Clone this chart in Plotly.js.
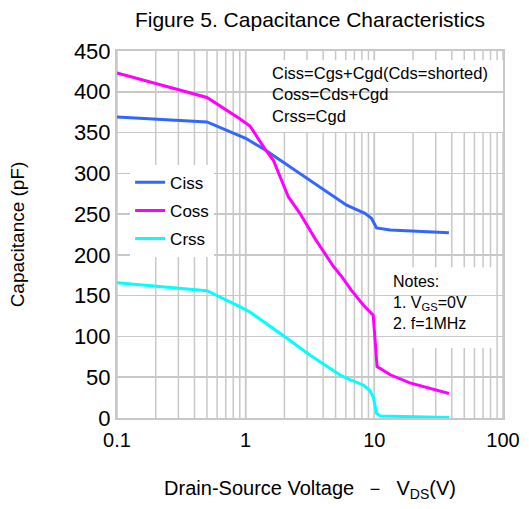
<!DOCTYPE html>
<html><head><meta charset="utf-8">
<script src="https://cdn.plot.ly/plotly-3.0.1.min.js"></script>
<style>body{margin:0;background:#fff}#chart{width:529px;height:509px}</style>
</head><body><div id="chart"></div>
<script>
const cissV = [0.1, 0.5, 1.0, 1.41, 6.09, 8.45, 9.5, 10.4, 13.3, 38.0];
const cissC = [369, 363, 343, 329, 261, 251, 245, 233, 230.5, 227];
const cossV = [0.1, 0.5, 0.9, 1.08, 1.41, 1.64, 2.15, 2.64, 3.46, 4.8, 5.6, 6.6, 8.2, 9.8, 10.5, 13.3, 18.9, 38.0];
const cossC = [423, 393, 367, 358, 330, 316, 271, 251, 220, 186, 173, 157, 138.5, 126, 63, 53, 43, 30];
const crssV = [0.1, 0.5, 0.9, 1.08, 2.08, 3.17, 5.38, 6.46, 8.2, 9.2, 9.8, 10.4, 11.1, 20.0, 38.0];
const crssC = [166, 156, 136.5, 130, 98, 77, 53, 47, 40.5, 34, 26, 6, 2.5, 1.5, 0.5];
const xTicks = [0.1, 1, 10, 100];
const xTickText = ['0.1', '1', '10', '100'];
const yTicks = [0, 50, 100, 150, 200, 250, 300, 350, 400, 450];

const F = 'Liberation Sans, Arial, sans-serif';
const traces = [
  {x: cissV, y: cissC, name: 'Ciss', legendgroup: 'a', mode: 'lines', line: {color: '#3366ff', width: 3}},
  {x: cossV, y: cossC, name: 'Coss', legendgroup: 'b', mode: 'lines', line: {color: '#ff00ff', width: 3}},
  {x: crssV, y: crssC, name: 'Crss', legendgroup: 'c', mode: 'lines', line: {color: '#00ffff', width: 3}}
];
const gridVals = [];
[0.1, 1, 10].forEach(d => { for (let k = 1; k <= 10; k++) gridVals.push(d * k); });

const layout = {
  width: 529, height: 509,
  margin: {l: 117, r: 26, t: 51, b: 91},
  paper_bgcolor: '#fff', plot_bgcolor: '#fff',
  font: {family: F, color: '#000', size: 18},
  title: {text: 'Figure 5. Capacitance Characteristics', x: 0.586, xanchor: 'center', y: 0.962, yanchor: 'middle', font: {size: 21, family: F}},
  xaxis: {
    type: 'log', range: [-1, 2],
    tickvals: xTicks, ticktext: xTickText, ticks: '',
    showgrid: false, zeroline: false,
    showline: true, linecolor: '#c8c8c8', linewidth: 2, mirror: true,
    tickfont: {size: 20}, ticklabelstandoff: 3,
    title: {text: 'Drain-Source Voltage  －  V<sub>DS</sub>(V)', font: {size: 20}, standoff: 31}
  },
  yaxis: {
    range: [0, 450], tickvals: yTicks, ticks: '',
    showgrid: true, gridcolor: '#c8c8c8', gridwidth: 1.5, zeroline: false,
    showline: true, linecolor: '#c8c8c8', linewidth: 2, mirror: true,
    tickfont: {size: 22},
    title: {text: 'Capacitance (pF)', font: {size: 19}, standoff: 44}
  },
  showlegend: true,
  legend: {x: 0.034, y: 0.69, xanchor: 'left', yanchor: 'top', bgcolor: '#fff', borderwidth: 0,
    font: {size: 17, family: F}, tracegroupgap: 3},
  shapes: gridVals.map(v => ({type: 'line', xref: 'x', yref: 'paper', x0: v, x1: v, y0: 0, y1: 1,
      line: {color: '#c8c8c8', width: 1.5}, layer: 'below'})).concat([
    {type: 'rect', xref: 'paper', yref: 'paper', x0: 0.391, x1: 1, y0: 0.779, y1: 0.975, fillcolor: '#fff', line: {width: 0}, layer: 'below'},
    {type: 'rect', xref: 'paper', yref: 'paper', x0: 0.689, x1: 0.974, y0: 0.191, y1: 0.411, fillcolor: '#fff', line: {width: 0}, layer: 'below'}
  ]),
  annotations: [
    {xref: 'paper', yref: 'paper', x: 0.397, y: 0.97, xanchor: 'left', yanchor: 'top', align: 'left', showarrow: false,
     text: 'Ciss=Cgs+Cgd(Cds=shorted)<br>Coss=Cds+Cgd<br>Crss=Cgd', font: {size: 16.5, family: F}},
    {xref: 'paper', yref: 'paper', x: 0.71, y: 0.4, xanchor: 'left', yanchor: 'top', align: 'left', showarrow: false,
     text: 'Notes:<br>1. V<sub>GS</sub>=0V<br>2. f=1MHz', font: {size: 16, family: F}}
  ]
};
Plotly.newPlot('chart', traces, layout, {displayModeBar: false, staticPlot: true});
</script></body></html>
